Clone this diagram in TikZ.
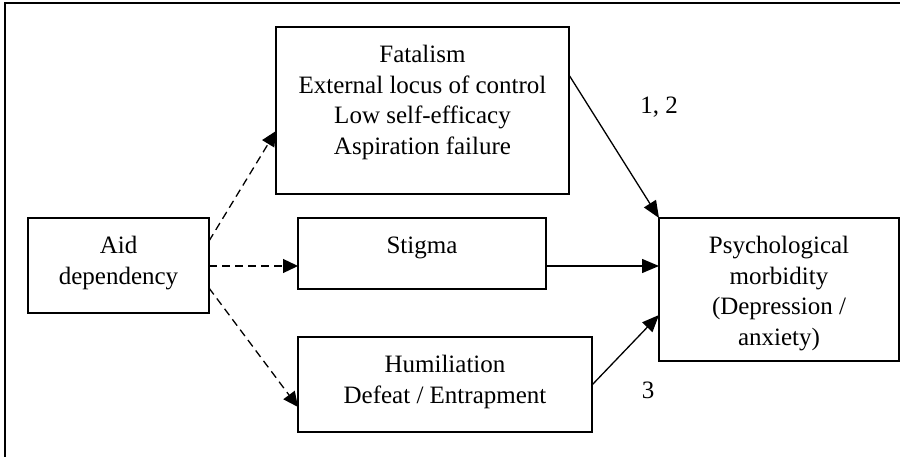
\documentclass[tikz,border=0pt]{standalone}
\usepackage{fontspec}
\setmainfont{Liberation Serif}
\usetikzlibrary{arrows.meta}

% A framed text block: fixed width and height, lines centred and hung from the top
\newcommand\framedlines[3]{\parbox[t][#2][t]{#1}{\centering\vspace*{14.5pt}\strut#3}}

\begin{document}
\begin{tikzpicture}[x=1pt,y=-1pt,
  every node/.style={font=\fontsize{25}{30.5}\selectfont},
  box/.style={draw, line width=1.4pt, inner sep=0pt, outer sep=0pt},
  tag/.style={inner sep=0pt, anchor=base},
  solidarrow/.style={line width=1.3pt, -{Triangle[length=17pt,width=14pt]}},
  dasharrow/.style={line width=1.3pt, dash pattern=on 8pt off 5pt,
    -{Triangle[length=15pt,width=14pt]}}]
\useasboundingbox (0,0) rectangle (900,457);

% frame
\draw[line width=1.6pt] (5,457) -- (5,3) -- (900,3);

% boxes
\node[box] (aid) at (118.5,265.5) {\framedlines{181pt}{95pt}{Aid\\dependency}};
\node[box] (fat) at (422.5,110.5) {\framedlines{293pt}{167pt}{Fatalism\\External locus of control\\Low self-efficacy\\Aspiration failure}};
\node[box] (stig) at (422,253.5) {\framedlines{248pt}{71pt}{Stigma}};
\node[box] (hum) at (445,384.5) {\framedlines{294pt}{95pt}{Humiliation\\Defeat / Entrapment}};
\node[box] (psy) at (779,289.5) {\framedlines{240pt}{143pt}{Psychological\\morbidity\\(Depression /\\anxiety)}};

% dashed links out of aid dependency
\draw[dasharrow] ([yshift=24.5pt]aid.east) -- ([yshift=-20.5pt]fat.west);
\draw[dasharrow] ([yshift=-0.5pt]aid.east) -- ([yshift=-12.5pt]stig.west);
\draw[dasharrow] ([yshift=-22.5pt]aid.east) -- ([yshift=-22.5pt]hum.west);

% solid links into psychological morbidity
\draw[solidarrow] ([yshift=35.5pt]fat.east) -- (psy.north west);
\draw[solidarrow] ([yshift=-12.5pt]stig.east) -- ([yshift=23.5pt]psy.west);
\draw[solidarrow] ([yshift=-0.5pt]hum.east) -- ([yshift=-25.5pt]psy.west);

% path labels
\node[tag] (l12) at (659,113.5) {1, 2};
\node[tag] (l3) at (648,398.5) {3};
\end{tikzpicture}
\end{document}
